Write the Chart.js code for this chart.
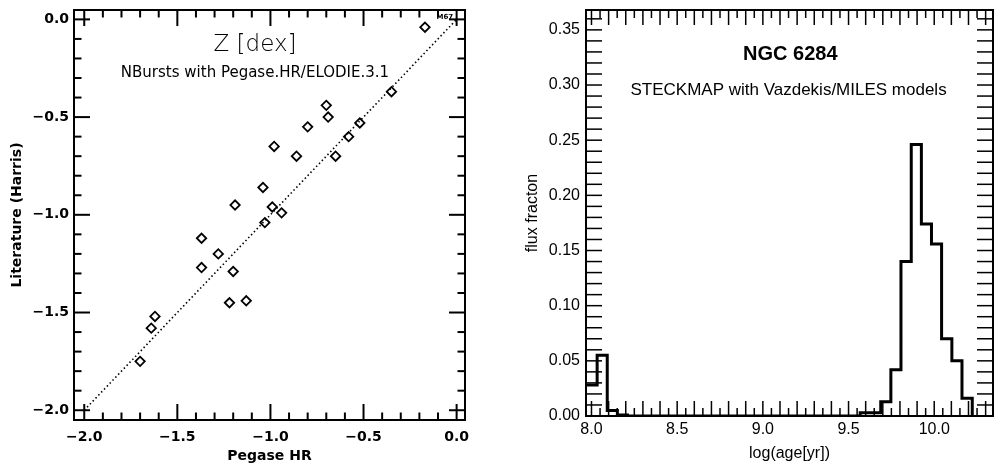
<!DOCTYPE html>
<html><head><meta charset="utf-8">
<script src="https://cdn.jsdelivr.net/npm/chart.js@4.4.0/dist/chart.umd.min.js"></script>
<style>
body{margin:0;background:#fff;width:995px;height:465px;position:relative;overflow:hidden}
#left{position:absolute;left:0;top:0}
#right{position:absolute;left:500px;top:0}
</style></head><body>
<canvas id="left" width="490" height="465"></canvas>
<canvas id="right" width="495" height="465"></canvas>
<script>
// left panel: [Z/H] from NBursts fits vs Harris catalogue
const pegaseZ = [-0.17,-0.35,-0.70,-0.69,-0.80,-0.52,-0.58,-0.98,-0.86,-0.65,-1.04,-1.19,
                 -0.99,-0.94,-1.03,-1.37,-1.28,-1.37,-1.20,-1.22,-1.13,-1.62,-1.64,-1.70];
const harrisZ = [-0.04,-0.37,-0.44,-0.50,-0.55,-0.53,-0.60,-0.65,-0.70,-0.70,-0.86,-0.95,
                 -0.96,-0.99,-1.04,-1.12,-1.20,-1.27,-1.29,-1.45,-1.44,-1.52,-1.58,-1.75];
const oneToOne = [-2.0, 0.0];
const zTicks = [-2.0,-1.5,-1.0,-0.5,0.0];

// right panel: STECKMAP age distribution of NGC 6284
const ageEdges = [7.974,8.033,8.092,8.151,8.210,9.568,9.688,9.747,9.806,9.866,9.925,9.984,10.043,10.103,10.162,10.222];
const fluxFrac = [0.028,0.055,0.005,0.001,0.000,0.003,0.013,0.042,0.140,0.246,0.174,0.156,0.070,0.050,0.016,0.000];
const ageTicks = [8.0,8.5,9.0,9.5,10.0];
const fracTicks = [0.00,0.05,0.10,0.15,0.20,0.25,0.30,0.35];

const minus = s => s.replace('-', '\u2212');

function line(ctx,x1,y1,x2,y2){ctx.beginPath();ctx.moveTo(x1,y1);ctx.lineTo(x2,y2);ctx.stroke();}

// inward ticks on all four sides + frame + free texts
function framePlugin(o){
  return {
    id:'frame',
    afterDraw(chart){
      const {ctx, chartArea:a, scales:{x,y}} = chart;
      ctx.save();
      ctx.strokeStyle='#000';
      ctx.lineWidth=o.tickW;
      o.xt.forEach(([v,len])=>{
        const p=x.getPixelForValue(v);
        line(ctx,p,a.bottom,p,a.bottom-len); line(ctx,p,a.top,p,a.top+len);
      });
      o.yt.forEach(([v,len])=>{
        const p=y.getPixelForValue(v);
        line(ctx,a.left,p,a.left+len,p); line(ctx,a.right,p,a.right-len,p);
      });
      ctx.lineWidth=o.frameW;
      ctx.strokeRect(a.left,a.top,a.right-a.left,a.bottom-a.top);
      ctx.fillStyle='#000'; ctx.textAlign='center'; ctx.textBaseline='middle';
      o.texts.forEach(t=>{
        ctx.font=t.font;
        ctx.fillText(t.s, x.getPixelForValue(t.x), y.getPixelForValue(t.y));
      });
      ctx.restore();
    }
  };
}

function ticksBetween(lo,hi,step,major,lmaj,lmin){
  const out=[];
  for(let i=Math.round(lo/step);i*step<=hi+1e-9;i++){
    const v=i*step;
    const isMaj=Math.abs(v/major-Math.round(v/major))<1e-6;
    out.push([v,isMaj?lmaj:lmin]);
  }
  return out;
}

const fitX = h => s => { s.height=h; s.paddingLeft=0; s.paddingRight=0; };
const fitY = w => s => { s.width=w; s.paddingTop=0; s.paddingBottom=0; };

const dv = 'DejaVu Sans';
new Chart(document.getElementById('left'), {
  type:'scatter',
  data:{datasets:[
    {data:pegaseZ.map((v,i)=>({x:v,y:harrisZ[i]})), pointStyle:'rectRot', pointRadius:4.7,
     borderColor:'#000', borderWidth:1.8, backgroundColor:'rgba(0,0,0,0)'},
    {data:oneToOne.map(v=>({x:v,y:v})), showLine:true, borderColor:'#000', borderWidth:1.6,
     borderDash:[1.5,2.6], pointRadius:0}
  ]},
  options:{
    responsive:false, animation:false, devicePixelRatio:1,
    layout:{padding:{left:0,right:25,top:10,bottom:0}},
    plugins:{legend:{display:false},tooltip:{enabled:false}},
    scales:{
      x:{type:'linear',min:-2.055,max:0.045,
         grid:{display:false,drawTicks:false},border:{display:false},
         afterBuildTicks:s=>{s.ticks=zTicks.map(v=>({value:v}));},
         afterFit:fitX(45),
         ticks:{padding:9,color:'#000',font:{family:dv,size:14,weight:'bold'},callback:v=>minus(v.toFixed(1))},
         title:{display:true,text:'Pegase HR',color:'#000',font:{family:dv,size:14,weight:'bold'},padding:{top:0,bottom:0}}},
      y:{type:'linear',min:-2.05,max:0.048,
         grid:{display:false,drawTicks:false},border:{display:false},
         afterBuildTicks:s=>{s.ticks=zTicks.map(v=>({value:v}));},
         afterFit:fitY(74),
         ticks:{padding:5,color:'#000',font:{family:dv,size:14,weight:'bold'},callback:v=>minus(v.toFixed(1))},
         title:{display:true,text:'Literature (Harris)',color:'#000',font:{family:dv,size:14,weight:'bold'},padding:{top:9,bottom:0}}}
    }
  },
  plugins:[framePlugin({
    frameW:2, tickW:2,
    xt:ticksBetween(-2.0,0.0,0.1,0.5,16,7.5),
    yt:ticksBetween(-2.0,0.0,0.1,0.5,16,7.5),
    texts:[
      {s:'Z [dex]', x:-1.083, y:-0.13, font:'300 23px "DejaVu Sans"'},
      {s:'NBursts with Pegase.HR/ELODIE.3.1', x:-1.083, y:-0.275, font:'15px "DejaVu Sans"'},
      {s:'M67', x:-0.063, y:0.012, font:'bold 7px "DejaVu Sans"'}
    ]
  })]
});

const lib = 'Liberation Sans';
new Chart(document.getElementById('right'), {
  type:'line',
  data:{datasets:[
    {data:ageEdges.map((v,i)=>({x:v,y:fluxFrac[i]})), stepped:'before', borderColor:'#000',
     borderWidth:3, pointRadius:0, fill:false}
  ]},
  options:{
    responsive:false, animation:false, devicePixelRatio:1,
    layout:{padding:{left:0,right:2,top:10,bottom:0}},
    plugins:{legend:{display:false},tooltip:{enabled:false}},
    scales:{
      x:{type:'linear',min:7.968,max:10.343,
         grid:{display:false,drawTicks:false},border:{display:false},
         afterBuildTicks:s=>{s.ticks=ageTicks.map(v=>({value:v}));},
         afterFit:fitX(49),
         ticks:{padding:4,color:'#000',font:{family:lib,size:16},callback:v=>v.toFixed(1)},
         title:{display:true,text:'log(age[yr])',color:'#000',font:{family:lib,size:16},padding:{top:0,bottom:2}}},
      y:{type:'linear',min:0,max:0.368,
         grid:{display:false,drawTicks:false},border:{display:false},
         afterBuildTicks:s=>{s.ticks=fracTicks.map(v=>({value:v}));},
         afterFit:fitY(86),
         ticks:{padding:6,color:'#000',font:{family:lib,size:16},callback:v=>v.toFixed(2)},
         title:{display:true,text:'flux fracton',color:'#000',font:{family:lib,size:16},padding:{top:23,bottom:0}}}
    }
  },
  plugins:[framePlugin({
    frameW:2, tickW:1.5,
    xt:ticksBetween(8.0,10.34,0.05,0.1,15,8),
    yt:ticksBetween(0,0.36,0.01,0.05,16,16),
    texts:[
      {s:'NGC 6284', x:9.16, y:0.328, font:'bold 20px "Liberation Sans"'},
      {s:'STECKMAP with Vazdekis/MILES models', x:9.15, y:0.295, font:'17px "Liberation Sans"'}
    ]
  })]
});
</script>
</body></html>
